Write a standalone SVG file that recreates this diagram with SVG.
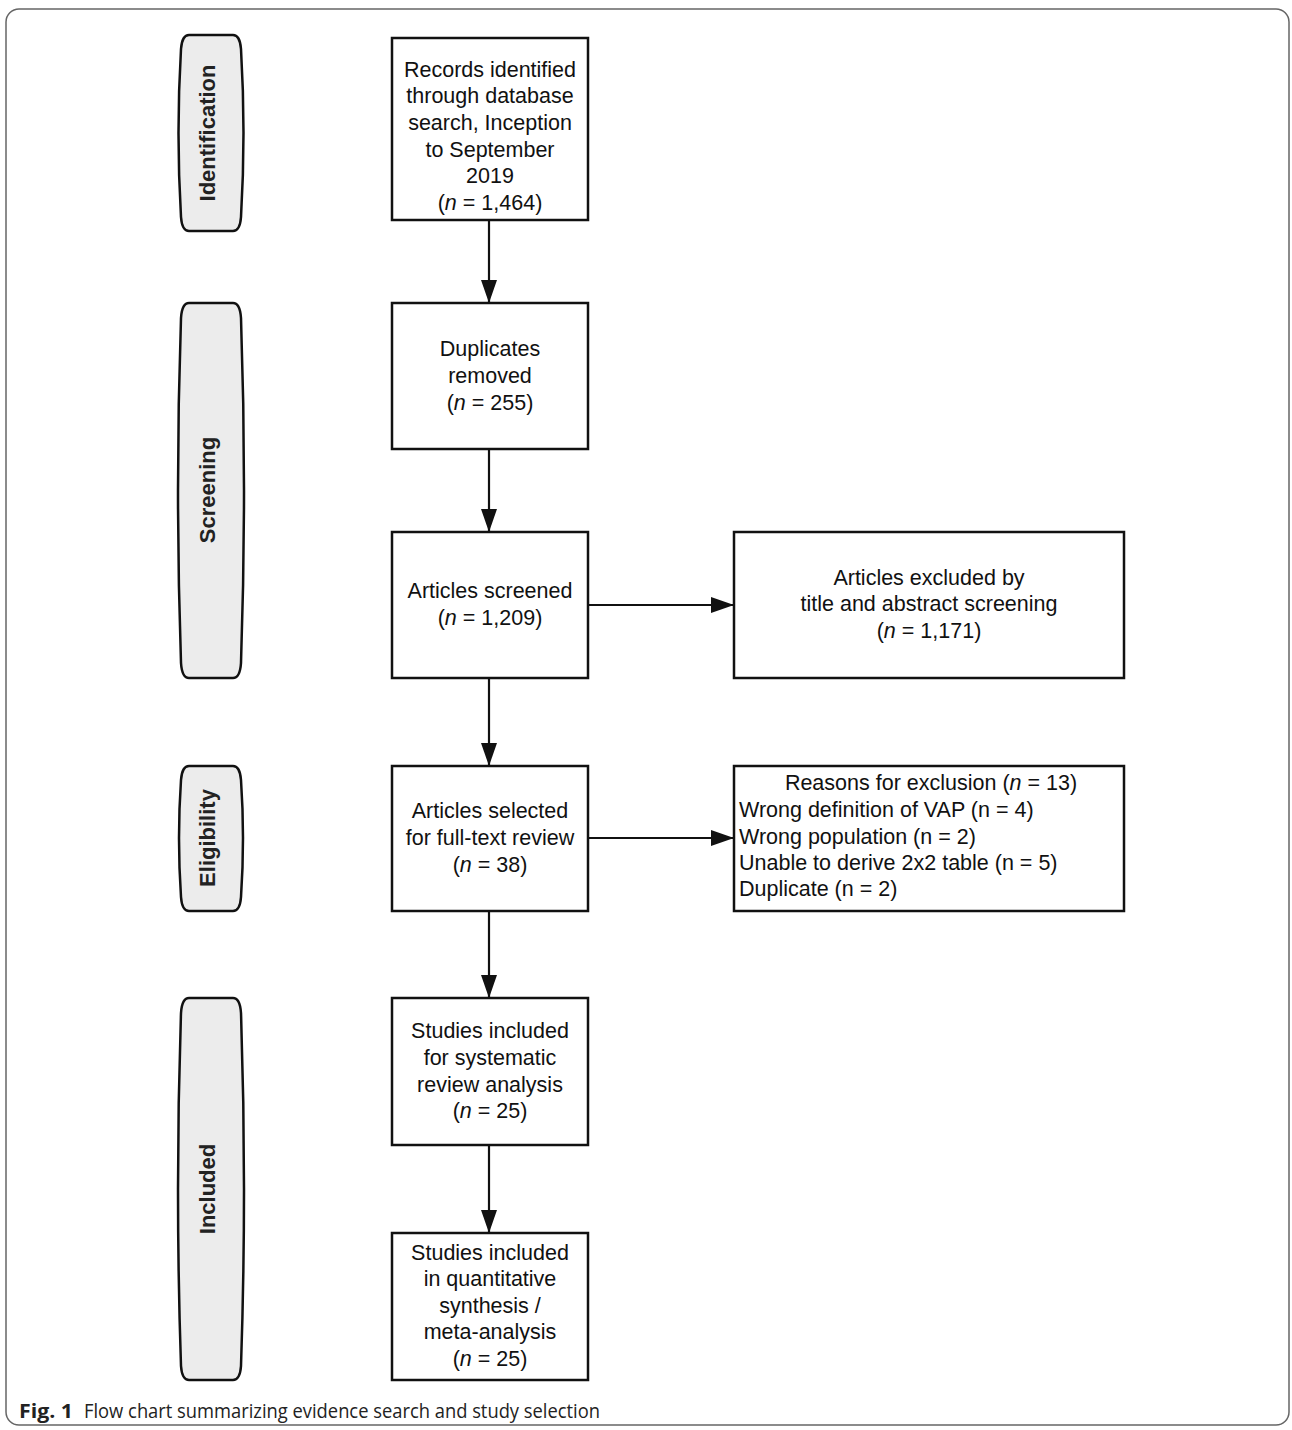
<svg xmlns="http://www.w3.org/2000/svg" width="1292" height="1430" viewBox="0 0 1292 1430">
<defs>
<style>
.box{fill:#fff;stroke:#111;stroke-width:2.5}
.pill{fill:#ececec;stroke:#111;stroke-width:2.5}
.t{font-family:"Liberation Sans",Arial,sans-serif;font-size:21.5px;fill:#111;text-anchor:middle}
.tl{font-family:"Liberation Sans",Arial,sans-serif;font-size:21.5px;fill:#111}
.p{font-family:"Liberation Sans",Arial,sans-serif;font-size:22px;font-weight:bold;fill:#222;text-anchor:middle}
.cap{font-family:"Open Sans","Noto Sans",sans-serif;font-size:20px;fill:#222}
.edge{stroke:#111;stroke-width:2.2;fill:none;marker-end:url(#ah)}
</style>
<marker id="ah" markerWidth="23" markerHeight="16" refX="22" refY="8" orient="auto" markerUnits="userSpaceOnUse" viewBox="0 0 23 16">
<path d="M0,0 L23,8 L0,16 Z" fill="#111"/>
</marker>
</defs>
<rect x="6" y="9" width="1283" height="1416" rx="13" fill="#fff" stroke="#666" stroke-width="1.5"/>

<g id="phase-identification">
<path class="pill" d="M189,35 H233 Q240,35 241,49 Q246,133 241,217 Q240,231 233,231 H189 Q182,231 181,217 Q176,133 181,49 Q182,35 189,35 Z"/>
<text class="p" transform="translate(215,133) rotate(-90)">Identification</text>
</g>
<g id="phase-screening">
<path class="pill" d="M189,303 H233 Q240,303 241,318 Q247,490 241,663 Q240,678 233,678 H189 Q182,678 181,663 Q175,490 181,318 Q182,303 189,303 Z"/>
<text class="p" transform="translate(215,490) rotate(-90)">Screening</text>
</g>
<g id="phase-eligibility">
<path class="pill" d="M189,766 H233 Q240,766 241,780 Q245,838 241,897 Q240,911 233,911 H189 Q182,911 181,897 Q177,838 181,780 Q182,766 189,766 Z"/>
<text class="p" transform="translate(215,838) rotate(-90)">Eligibility</text>
</g>
<g id="phase-included">
<path class="pill" d="M189,998 H233 Q240,998 241,1013 Q247,1189 241,1366 Q240,1380 233,1380 H189 Q182,1380 181,1366 Q175,1189 181,1013 Q182,998 189,998 Z"/>
<text class="p" transform="translate(215,1189) rotate(-90)">Included</text>
</g>

<g id="connectors">
<line class="edge" x1="489" y1="220" x2="489" y2="302"/>
<line class="edge" x1="489" y1="449" x2="489" y2="531"/>
<line class="edge" x1="588" y1="605" x2="733" y2="605"/>
<line class="edge" x1="489" y1="678" x2="489" y2="765"/>
<line class="edge" x1="588" y1="838" x2="733" y2="838"/>
<line class="edge" x1="489" y1="911" x2="489" y2="997"/>
<line class="edge" x1="489" y1="1145" x2="489" y2="1232"/>
</g>

<g id="records">
<rect class="box" x="392" y="38" width="196" height="182"/>
<text class="t" x="490" y="77">Records identified</text>
<text class="t" x="490" y="103">through database</text>
<text class="t" x="490" y="130">search, Inception</text>
<text class="t" x="490" y="157">to September</text>
<text class="t" x="490" y="183">2019</text>
<text class="t" x="490" y="210">(<tspan font-style="italic">n</tspan> = 1,464)</text>
</g>
<g id="duplicates">
<rect class="box" x="392" y="303" width="196" height="146"/>
<text class="t" x="490" y="356">Duplicates</text>
<text class="t" x="490" y="383">removed</text>
<text class="t" x="490" y="410">(<tspan font-style="italic">n</tspan> = 255)</text>
</g>
<g id="screened">
<rect class="box" x="392" y="532" width="196" height="146"/>
<text class="t" x="490" y="598">Articles screened</text>
<text class="t" x="490" y="625">(<tspan font-style="italic">n</tspan> = 1,209)</text>
</g>
<g id="excluded-title">
<rect class="box" x="734" y="532" width="390" height="146"/>
<text class="t" x="929" y="585">Articles excluded by</text>
<text class="t" x="929" y="611">title and abstract screening</text>
<text class="t" x="929" y="638">(<tspan font-style="italic">n</tspan> = 1,171)</text>
</g>
<g id="fulltext">
<rect class="box" x="392" y="766" width="196" height="145"/>
<text class="t" x="490" y="818">Articles selected</text>
<text class="t" x="490" y="845">for full-text review</text>
<text class="t" x="490" y="872">(<tspan font-style="italic">n</tspan> = 38)</text>
</g>
<g id="reasons">
<rect class="box" x="734" y="766" width="390" height="145"/>
<text class="t" x="931" y="790">Reasons for exclusion (<tspan font-style="italic">n</tspan> = 13)</text>
<text class="tl" x="739" y="817">Wrong definition of VAP (n = 4)</text>
<text class="tl" x="739" y="844">Wrong population (n = 2)</text>
<text class="tl" x="739" y="870">Unable to derive 2x2 table (n = 5)</text>
<text class="tl" x="739" y="896">Duplicate (n = 2)</text>
</g>
<g id="systematic">
<rect class="box" x="392" y="998" width="196" height="147"/>
<text class="t" x="490" y="1038">Studies included</text>
<text class="t" x="490" y="1065">for systematic</text>
<text class="t" x="490" y="1092">review analysis</text>
<text class="t" x="490" y="1118">(<tspan font-style="italic">n</tspan> = 25)</text>
</g>
<g id="meta">
<rect class="box" x="392" y="1233" width="196" height="147"/>
<text class="t" x="490" y="1260">Studies included</text>
<text class="t" x="490" y="1286">in quantitative</text>
<text class="t" x="490" y="1313">synthesis /</text>
<text class="t" x="490" y="1339">meta-analysis</text>
<text class="t" x="490" y="1366">(<tspan font-style="italic">n</tspan> = 25)</text>
</g>

<g id="caption">
<text class="cap" x="19" y="1418" font-weight="bold" font-size="21" textLength="54" lengthAdjust="spacingAndGlyphs">Fig. 1</text>
<text class="cap" x="84" y="1418" textLength="516" lengthAdjust="spacingAndGlyphs">Flow chart summarizing evidence search and study selection</text>
</g>
</svg>
